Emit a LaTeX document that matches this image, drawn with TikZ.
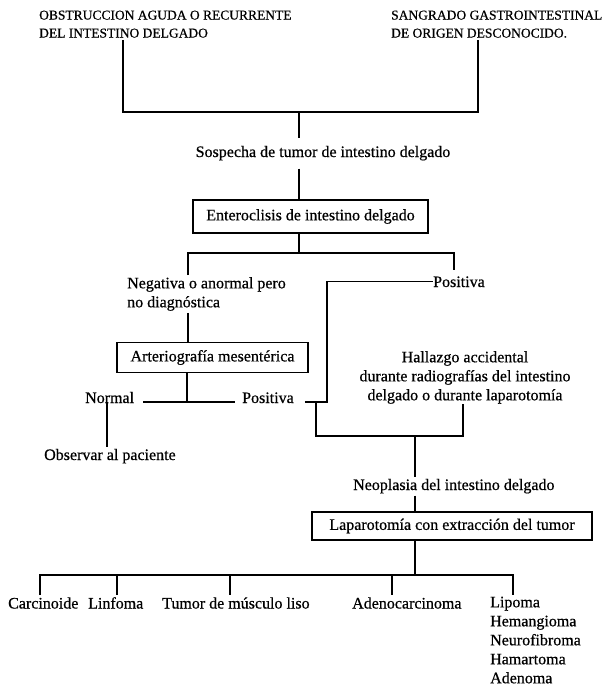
\documentclass[tikz,border=0pt]{standalone}
\usepackage{fontspec}
\setmainfont{Liberation Serif}
\newfontfamily\gruesa{Liberation Serif}[FakeBold=0.6]
\usetikzlibrary{positioning}

\newcommand{\letraN}{\gruesa\fontsize{16}{19}\selectfont}
\newcommand{\letraM}{\gruesa\fontsize{13.5}{18}\selectfont}

\begin{document}
\begin{tikzpicture}[
    x=1pt, y=-1pt,
    every node/.style={font=\letraN},
    texto/.style={inner xsep=0pt, inner ysep=2pt, anchor=base west},
    caja/.style={rectangle, draw, line width=1.4pt, inner sep=0pt, align=center},
    linea/.style={line width=1.4pt}
]
    \useasboundingbox (0,0) rectangle (610,693);

    % Cuadros clinicos de partida
    \node[texto, anchor=north west, align=left, font=\letraM] (obst) at (39,8.4) {OBSTRUCCION AGUDA O RECURRENTE\\DEL INTESTINO DELGADO};
    \node[texto, anchor=north west, align=left, font=\letraM] (sang) at (391,8.4) {SANGRADO GASTROINTESTINAL\\DE ORIGEN DESCONOCIDO.};

    \coordinate (cIzq) at (123,112);
    \coordinate (cDer) at (478,112);
    \coordinate (cTop) at (299,112);
    \draw[linea] (obst.south -| cIzq) -- (cIzq) -- (cDer) -- (sang.south -| cDer);

    % Sospecha y enteroclisis
    \node[texto, anchor=base, inner ysep=8pt] (sosp) at (323,157) {Sospecha de tumor de intestino delgado};
    \draw[linea] (cTop) -- (sosp.north -| cTop);

    \node[caja, minimum width=235pt, minimum height=33pt] (ent) at (310.5,216.5) {Enteroclisis de intestino delgado};
    \draw[linea] (sosp.south -| cTop) -- (ent.north -| cTop);

    % Resultado de la enteroclisis
    \coordinate (cSplit) at (299,253);
    \coordinate (cNeg) at (188,253);
    \coordinate (cPos) at (454,253);
    \node[texto, anchor=north west, align=left] (neg) at (127,275) {Negativa o anormal pero\\no diagnóstica};
    \node[texto, inner ysep=6pt] (pos1) at (433,287) {Positiva};
    \draw[linea] (ent.south -| cTop) -- (cSplit);
    \draw[linea] (neg.north -| cNeg) -- (cNeg) -- (cPos) -- (pos1.north -| cPos);

    % Arteriografia
    \node[caja, minimum width=191pt, minimum height=30pt] (art) at (212.5,357.5) {Arteriografía mesentérica};
    \draw[linea] (neg.south -| cNeg) -- (art.north -| cNeg);

    \coordinate (cArt) at (187,402);
    \node[texto] (normal) at (85,403) {Normal};
    \node[texto] (pos2) at (242,403) {Positiva};
    \draw[linea] (art.south -| cArt) -- (cArt);
    \draw[linea] ([xshift=9pt]normal.east |- cArt) -- ([xshift=-7pt]pos2.west |- cArt);

    \coordinate (cObs) at (107,402);
    \node[texto] (obs) at (44,460) {Observar al paciente};
    \draw[linea] (cObs) -- (obs.north -| cObs);

    % Hallazgo accidental
    \node[texto, anchor=north, align=center, inner ysep=0pt] (hall) at (465,351) {Hallazgo accidental\\durante radiografías del intestino\\delgado o durante laparotomía};

    \coordinate (cEsq) at (327,402);
    \coordinate (cSub) at (316,402);
    \coordinate (cUnion) at (316,436);
    \coordinate (cHall) at (463,436);
    \draw[linea] ([xshift=11pt]pos2.east |- cEsq) -- (cEsq) -- (cEsq |- pos1.west) -- (pos1.west);
    \draw[linea] (cSub) -- (cUnion) -- (cHall) -- (hall.south -| cHall);

    % Neoplasia y laparotomia
    \coordinate (cNeo) at (415,436);
    \node[texto] (neo) at (353,490) {Neoplasia del intestino delgado};
    \draw[linea] (cNeo) -- (neo.north -| cNeo);

    \node[caja, minimum width=280pt, minimum height=28pt] (lap) at (452,526) {Laparotomía con extracción del tumor};
    \draw[linea] (neo.south -| cNeo) -- (lap.north -| cNeo);

    % Tipos de tumor
    \coordinate (cHoja) at (415,575);
    \node[texto] (carc) at (8,608.5) {Carcinoide};
    \node[texto] (linf) at (88,608.5) {Linfoma};
    \node[texto] (tumor) at (162,608.5) {Tumor de músculo liso};
    \node[texto] (adeno) at (352,608.5) {Adenocarcinoma};
    \node[texto, anchor=north west, align=left] (lipo) at (490,594.5) {Lipoma\\Hemangioma\\Neurofibroma\\Hamartoma\\Adenoma};

    \coordinate (hCarc) at (40,575);
    \coordinate (hLinf) at (117,575);
    \coordinate (hTumor) at (230,575);
    \coordinate (hAdeno) at (392,575);
    \coordinate (hLipo) at (513,575);
    \draw[linea] (lap.south -| cHoja) -- (cHoja);
    \draw[linea] (carc.north -| hCarc) -- (hCarc) -- (hLipo) -- (lipo.north -| hLipo);
    \draw[linea] (hLinf) -- (linf.north -| hLinf);
    \draw[linea] (hTumor) -- (tumor.north -| hTumor);
    \draw[linea] (hAdeno) -- (adeno.north -| hAdeno);
\end{tikzpicture}
\end{document}
